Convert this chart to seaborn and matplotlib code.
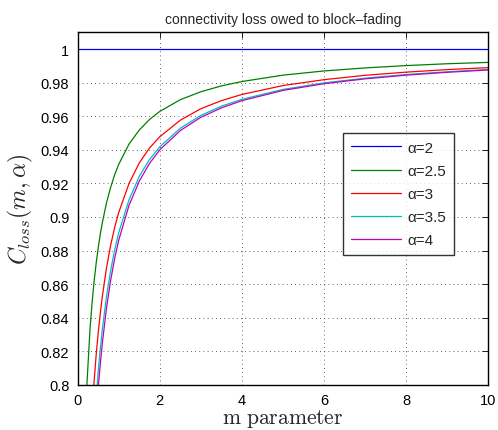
import numpy as np
import pandas as pd
import seaborn as sns
import matplotlib
matplotlib.use("Agg")
import matplotlib.pyplot as plt

# values (m parameter vs C_loss)
m_vals = [0.2, 0.3, 0.35, 0.4, 0.45, 0.5, 0.55, 0.6, 0.7, 0.8, 0.9, 1,
          1.25, 1.5, 1.75, 2, 2.5, 3, 3.5, 4, 5, 6, 7, 8, 9, 10]
m_a2 = [0, 2, 4, 6, 8, 10]
c_a2 = [1.0, 1.0, 1.0, 1.0, 1.0, 1.0]
c_a25 = [0.7894, 0.8332, 0.8487, 0.8616, 0.8724, 0.8816, 0.8896, 0.8966, 0.9082,
         0.9175, 0.9251, 0.9314, 0.9434, 0.9518, 0.9581, 0.9629, 0.9699, 0.9746,
         0.9781, 0.9807, 0.9845, 0.9870, 0.9888, 0.9902, 0.9913, 0.9921]
c_a3 = [0.6989, 0.7613, 0.7833, 0.8021, 0.8177, 0.8310, 0.8425, 0.8526, 0.8694,
        0.8828, 0.8937, 0.9027, 0.9199, 0.9322, 0.9411, 0.9478, 0.9577, 0.9645,
        0.9693, 0.9730, 0.9783, 0.9818, 0.9844, 0.9863, 0.9878, 0.9890]
c_a35 = [0.6546, 0.7268, 0.7527, 0.7742, 0.7921, 0.8080, 0.8213, 0.8330, 0.8523,
         0.8677, 0.8803, 0.8906, 0.9102, 0.9242, 0.9342, 0.9418, 0.9529, 0.9605,
         0.9660, 0.9701, 0.9760, 0.9799, 0.9827, 0.9849, 0.9865, 0.9879]
c_a4 = [0.6323, 0.7105, 0.7385, 0.7617, 0.7813, 0.7979, 0.8122, 0.8247, 0.8454,
        0.8619, 0.8752, 0.8862, 0.9069, 0.9213, 0.9319, 0.9400, 0.9515, 0.9594,
        0.9650, 0.9693, 0.9754, 0.9794, 0.9823, 0.9845, 0.9862, 0.9876]

labels = ["α=2", "α=2.5", "α=3", "α=3.5", "α=4"]
colors = ["#0000ff", "#008000", "#ff0000", "#00bfbf", "#bf00bf"]
y_ticks = [0.8, 0.82, 0.84, 0.86, 0.88, 0.9, 0.92, 0.94, 0.96, 0.98, 1.0]
y_ticklabels = ["0.8", "0.82", "0.84", "0.86", "0.88", "0.9", "0.92", "0.94",
                "0.96", "0.98", "1"]
x_ticks = [0, 2, 4, 6, 8, 10]

series = [(m_a2, c_a2), (m_vals, c_a25), (m_vals, c_a3), (m_vals, c_a35), (m_vals, c_a4)]
df = pd.concat([
    pd.DataFrame({"m": m, "C": c, "alpha": lab})
    for (m, c), lab in zip(series, labels)
])

sns.set_style("white")
plt.rcParams["font.family"] = ["Liberation Sans", "DejaVu Sans"]
plt.rcParams["mathtext.fontset"] = "cm"

fig = plt.figure(figsize=(4.98, 4.31), dpi=100)
ax = fig.add_axes([0.156, 0.105, 0.8245, 0.8176])

sns.lineplot(data=df, x="m", y="C", hue="alpha", hue_order=labels,
             palette=dict(zip(labels, colors)), linewidth=0.9, ax=ax,
             sort=False, estimator=None)

ax.set_xlim(0, 10)
ax.set_ylim(0.8, 1.01)
ax.set_xticks(x_ticks)
ax.set_xticklabels([str(t) for t in x_ticks])
ax.set_yticks(y_ticks)
ax.set_yticklabels(y_ticklabels)
ax.tick_params(direction="in", length=4, width=0.6, top=True, right=True,
               labelsize=10.5, colors="black", pad=6)
ax.grid(True, color="black", linestyle=(0, (1, 4)), linewidth=0.6, alpha=0.8)
for s in ax.spines.values():
    s.set_color("black")
    s.set_linewidth(1.0)

ax.set_title("connectivity loss owed to block\u2013fading", fontsize=10, pad=7)
ax.set_xlabel(r"$\mathrm{m\ parameter}$", fontsize=15.5, labelpad=0)
ax.set_ylabel(r"$C_{loss}(m,\alpha)$", fontsize=17, labelpad=4)

leg = ax.legend(loc="upper left", bbox_to_anchor=(0.647, 0.714), borderaxespad=0,
                fontsize=11, frameon=True, fancybox=False, handlelength=3.3,
                labelspacing=0.6, borderpad=0.5, handletextpad=0.4)
leg.get_frame().set_edgecolor("black")
leg.get_frame().set_linewidth(1.0)

fig.savefig("out.png", dpi=100)
